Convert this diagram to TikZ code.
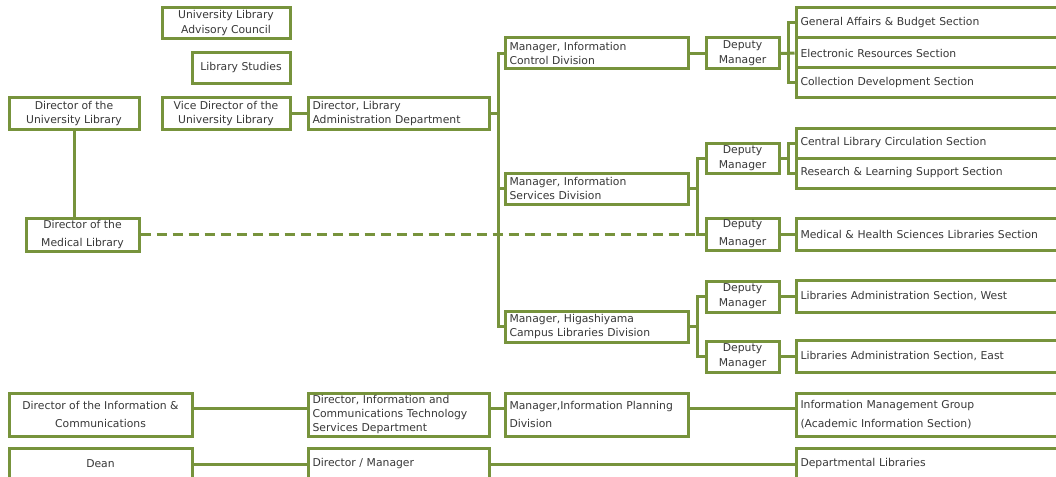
\documentclass[tikz,border=0pt]{standalone}
\usepackage{fontspec}
\setmainfont{DejaVu Sans}
\usepackage[HTML]{xcolor}
\usetikzlibrary{positioning}
\definecolor{chartgreen}{HTML}{77933C}
\definecolor{chartgray}{HTML}{383838}

\begin{document}
\begin{tikzpicture}[x=1pt, y=-1pt,
  box/.style={draw=chartgreen, line width=3pt, fill=white, inner sep=0pt,
    text=chartgray, font=\fontsize{10.8}{14.8}\selectfont, minimum height=31pt},
  cbox/.style={box, align=center, minimum width=#1},
  lbox/.style={box, align=left, inner xsep=4.5pt, text width=#1},
  link/.style={draw=chartgreen, line width=3pt}]
\useasboundingbox (0,0) rectangle (1056,476);
\clip (0,0) rectangle (1056,476);

% Advisory bodies and directors
\node[cbox=128pt] (council) at (226,23) {University Library\\Advisory Council};
\node[cbox=98pt] (studies) at (241,68) {Library Studies};
\node[cbox=130pt] (dirul) at (74,113.5) {Director of the\\University Library};
\node[cbox=128pt] (vicedir) at (226,113.5) {Vice Director of the\\University Library};
\node[lbox=172pt] (diradm) at (398.5,113.5) {Director, Library\\Administration Department};
\node[cbox=113pt, minimum height=33pt] (medlib) at (82.5,234.5) {Director of the\\[2.5pt]Medical Library};

% Division managers
\node[lbox=174pt] (mgrctl) at (596.5,53.5) {Manager, Information\\Control Division};
\node[lbox=174pt] (mgrsrv) at (596.5,188.5) {Manager, Information\\Services Division};
\node[lbox=174pt] (mgrhig) at (596.5,326.5) {Manager, Higashiyama\\Campus Libraries Division};

% Deputy managers
\node[cbox=73pt] (depctl) at (742.5,53.5) {Deputy\\Manager};
\node[cbox=73pt, minimum height=30pt] (depsrv) at (742.5,158) {Deputy\\Manager};
\node[cbox=73pt, minimum height=32pt] (depmed) at (742.5,234) {Deputy\\[3.5pt]Manager};
\node[cbox=73pt] (depwest) at (742.5,296.5) {Deputy\\Manager};
\node[cbox=73pt] (depeast) at (742.5,356.5) {Deputy\\Manager};

% Sections (cut by the right edge)
\node[lbox=270pt, minimum height=30pt] (secga) at (935.5,23) {General Affairs \& Budget Section};
\node[lbox=270pt, minimum height=30pt] (secer) at (935.5,53) {Electronic Resources Section};
\node[lbox=270pt, minimum height=30pt] (secce) at (935.5,83) {Collection Development Section};
\node[lbox=270pt, minimum height=30pt] (seccl) at (935.5,143) {Central Library Circulation Section};
\node[lbox=270pt, minimum height=30pt] (secrl) at (935.5,173) {Research \& Learning Support Section};
\node[lbox=270pt, minimum height=32pt] (secmh) at (935.5,234) {Medical \& Health Sciences Libraries Section};
\node[lbox=270pt, minimum height=32pt] (secw) at (935.5,296.5) {Libraries Administration Section, West};
\node[lbox=270pt, minimum height=32pt] (sece) at (935.5,356.5) {Libraries Administration Section, East};

% Information technology and departments
\node[cbox=183pt, minimum height=43pt] (dirict) at (100.5,414.5) {Director of the Information \&\\[3.5pt]Communications};
\node[lbox=172pt, minimum height=43pt] (dirictsd) at (398.5,414.5) {Director, Information and\\[-0.8pt]Communications Technology\\[-0.8pt]Services Department};
\node[lbox=174pt, minimum height=43pt] (mgrplan) at (596.5,414.5) {Manager,Information Planning\\[3.5pt]Division};
\node[lbox=270pt, minimum height=43pt] (imgroup) at (935.5,414.5) {Information Management Group\\[3.5pt](Academic Information Section)};
\node[cbox=183pt] (dean) at (100.5,464) {Dean};
\node[lbox=172pt] (dirmgr) at (398.5,464) {Director / Manager};
\node[lbox=270pt] (deplib) at (935.5,464) {Departmental Libraries};

% Forks
\coordinate (trunk) at (498,0);
\coordinate (srvfork) at (697,0);
\coordinate (secfork) at (788,0);

% Library administration
\draw[link] (dirul.south) -- (dirul.south |- medlib.north);
\draw[link] (vicedir.east) -- (diradm.west);
\draw[link] (diradm.east) -- (diradm.east -| trunk);
\draw[link] (mgrctl.west) -- (mgrctl.west -| trunk) |- (mgrhig.west);
\draw[link] (mgrsrv.west) -- (mgrsrv.west -| trunk);

% Information control
\draw[link] (mgrctl.east) -- (depctl.west);
\draw[link] (depctl.east) -- (secer.west);
\draw[link] (secga.west) -- (secga.west -| secfork) |- (secce.west);

% Information services
\draw[link] (mgrsrv.east) -- (mgrsrv.east -| srvfork);
\draw[link] (depsrv.west) -- (depsrv.west -| srvfork) |- (depmed.west);
\draw[link] (depsrv.east) -- (depsrv.east -| secfork);
\draw[link] (seccl.west) -- (seccl.west -| secfork) |- (secrl.west);
\draw[link] (depmed.east) -- (secmh.west);
\draw[link, dash pattern=on 10pt off 6pt] (medlib.east) -- (medlib.east -| srvfork);

% Higashiyama campus
\draw[link] (mgrhig.east) -- (mgrhig.east -| srvfork);
\draw[link] (depwest.west) -- (depwest.west -| srvfork) |- (depeast.west);
\draw[link] (depwest.east) -- (secw.west);
\draw[link] (depeast.east) -- (sece.west);

% Bottom rows
\draw[link] ([yshift=6pt]dirict.east) -- ([yshift=6pt]dirictsd.west);
\draw[link] ([yshift=6pt]dirictsd.east) -- ([yshift=6pt]mgrplan.west);
\draw[link] ([yshift=6pt]mgrplan.east) -- ([yshift=6pt]imgroup.west);
\draw[link] (dean.east) -- (dirmgr.west);
\draw[link] (dirmgr.east) -- (deplib.west);
\end{tikzpicture}
\end{document}
